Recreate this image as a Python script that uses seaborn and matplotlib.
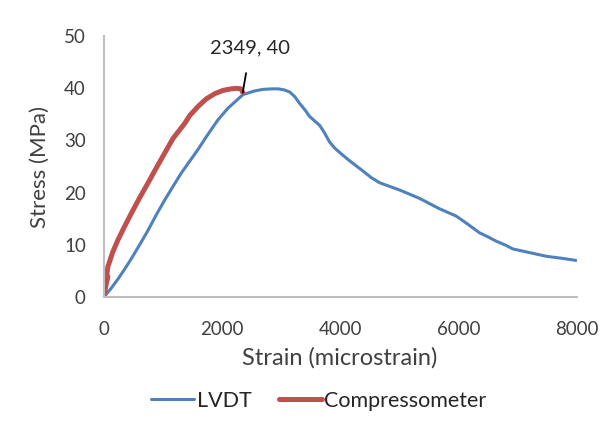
import numpy as np
import pandas as pd
import matplotlib
matplotlib.use("Agg")
import matplotlib.pyplot as plt
import seaborn as sns

# LVDT series (strain in microstrain, stress in MPa)
lvdt_strain = [0, 120, 237, 350, 463, 600, 744, 880, 1025, 1170, 1307, 1450, 1588, 1750,
               1926, 2100, 2354, 2550, 2692, 2850, 2950, 3050, 3143, 3230, 3312, 3400,
               3481, 3560, 3650, 3720, 3819, 3900, 3988, 4157, 4377, 4520, 4664, 5002,
               5340, 5678, 5960, 6150, 6354, 6500, 6636, 6800, 6918, 7200, 7482, 7750, 7989]
lvdt_stress = [0, 1.6, 3.4, 5.3, 7.3, 9.9, 12.7, 15.6, 18.5, 21.2, 23.7, 26.0, 28.2, 31.0,
               33.9, 36.2, 38.8, 39.5, 39.8, 39.9, 39.9, 39.7, 39.3, 38.4, 37.1, 35.9,
               34.6, 33.8, 32.9, 31.7, 29.7, 28.6, 27.7, 26.1, 24.2, 22.9, 21.9, 20.5,
               18.9, 16.9, 15.5, 14.0, 12.3, 11.5, 10.7, 9.9, 9.2, 8.5, 7.8, 7.4, 7.0]

# Compressometer series
comp_strain = [0, 30, 68, 40, 68, 150, 237, 350, 463, 600, 744, 880, 1025, 1170, 1363,
               1454, 1600, 1735, 1880, 2016, 2150, 2242, 2320, 2349]
comp_stress = [0, 2.0, 3.9, 3.6, 5.8, 8.6, 10.9, 13.5, 16.0, 18.9, 21.8, 24.6, 27.5,
               30.4, 33.2, 34.8, 36.6, 38.0, 39.0, 39.6, 39.9, 40.0, 39.9, 39.2]

series_names = ["LVDT", "Compressometer"]
x_ticks = [0, 2000, 4000, 6000, 8000]
y_ticks = [0, 10, 20, 30, 40, 50]
annot_text = "2349, 40"

df = pd.concat([
    pd.DataFrame({"Strain": lvdt_strain, "Stress": lvdt_stress, "Series": series_names[0]}),
    pd.DataFrame({"Strain": comp_strain, "Stress": comp_stress, "Series": series_names[1]}),
], ignore_index=True)

sns.set_style("white")
plt.rcParams["font.family"] = ["Lato", "DejaVu Sans"]

fig = plt.figure(figsize=(6.11, 4.36), dpi=100)
ax = fig.add_axes([0.170, 0.319, 0.774, 0.598])

palette = {"LVDT": "#4F81BD", "Compressometer": "#C0504D"}
sns.lineplot(data=df[df.Series == "LVDT"], x="Strain", y="Stress", sort=False,
             estimator=None, color=palette["LVDT"], lw=2.2, ax=ax, label="LVDT")
sns.lineplot(data=df[df.Series == "Compressometer"], x="Strain", y="Stress", sort=False,
             estimator=None, color=palette["Compressometer"], lw=3.6, ax=ax,
             label="Compressometer", solid_capstyle="round")

ax.set_xlim(0, 8000)
ax.set_ylim(0, 50)
ax.set_xticks(x_ticks)
ax.set_yticks(y_ticks)
ax.tick_params(axis="both", length=0, labelsize=13.5, labelcolor="#404040")
ax.tick_params(axis="x", pad=17)
ax.tick_params(axis="y", pad=13)

for s in ["top", "right"]:
    ax.spines[s].set_visible(False)
for s in ["left", "bottom"]:
    ax.spines[s].set_color("#BFBFBF")
    ax.spines[s].set_linewidth(1.5)

ax.set_xlabel("Strain (microstrain)", fontsize=17, color="#404040")
ax.set_ylabel("Stress (MPa)", fontsize=16, color="#404040")
ax.xaxis.set_label_coords(0.499, -0.234)
ax.yaxis.set_label_coords(-0.135, 0.5)
ax.xaxis.label.set_va("center")
ax.yaxis.label.set_va("center")

ax.annotate(annot_text, xy=(comp_strain[-1], comp_stress[-1]), xytext=(2480, 47.8),
            textcoords="data", ha="center", va="center", fontsize=14.5, color="#262626",
            arrowprops=dict(arrowstyle="-", color="black", lw=1.3, shrinkA=10, shrinkB=0))

leg = ax.legend(loc="center", bbox_to_anchor=(0.455, -0.398), ncol=2, frameon=False,
                fontsize=15.5, handlelength=2.0, columnspacing=1.3, handletextpad=0.1,
                labelcolor="#262626")

fig.savefig("out.png", dpi=100)
